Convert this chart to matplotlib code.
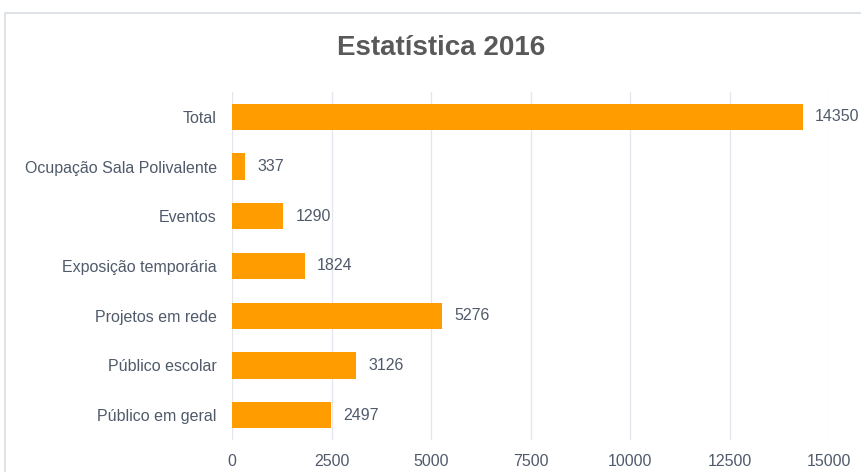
import matplotlib
matplotlib.use("Agg")
import matplotlib.pyplot as plt
from matplotlib import font_manager
from matplotlib.patches import Rectangle

categories = ["Público em geral", "Público escolar", "Projetos em rede",
              "Exposição temporária", "Eventos", "Ocupação Sala Polivalente", "Total"]
values = [2497, 3126, 5276, 1824, 1290, 337, 14350]
xticks = [0, 2500, 5000, 7500, 10000, 12500, 15000]
title = "Estatística 2016"

names = {f.name for f in font_manager.fontManager.ttflist}
fam = ["Liberation Sans Narrow"] if "Liberation Sans Narrow" in names else []
plt.rcParams["font.family"] = fam + ["Liberation Sans", "DejaVu Sans"]

txt = "#505A6A"
fig = plt.figure(figsize=(8.61, 4.72), dpi=100)
fig.patches.append(Rectangle((5/861, -0.1), 1.1, 1 - 13/472 + 0.1, transform=fig.transFigure,
                             fill=False, edgecolor="#D9DDE3", linewidth=1.2))
ax = fig.add_axes([232/861, 1 - 440/472, (829 - 232)/861, (440 - 92)/472])
ax.barh(range(len(categories)), values, height=0.53, color="#FF9C00", zorder=3)
for i, v in enumerate(values):
    ax.text(v + 300, i, str(v), va="center", ha="left", fontsize=11.5, color=txt)
ax.set_xlim(0, 15000)
ax.set_ylim(-0.5, len(categories) - 0.5)
ax.set_xticks(xticks)
ax.set_xticklabels([str(t) for t in xticks])
ax.set_yticks(range(len(categories)))
ax.set_yticklabels(categories)
ax.tick_params(axis="both", length=0, labelsize=11.5, labelcolor=txt)
ax.tick_params(axis="x", pad=10)
ax.tick_params(axis="y", pad=11)
ax.grid(axis="x", color="#E3E6EC", linewidth=0.9, zorder=0)
for s in ax.spines.values():
    s.set_visible(False)
fig.text(0.512, 1 - 48/472, title, ha="center", va="center", fontsize=20,
         fontweight="bold", color="#595959")
fig.savefig("out.png", dpi=100)
